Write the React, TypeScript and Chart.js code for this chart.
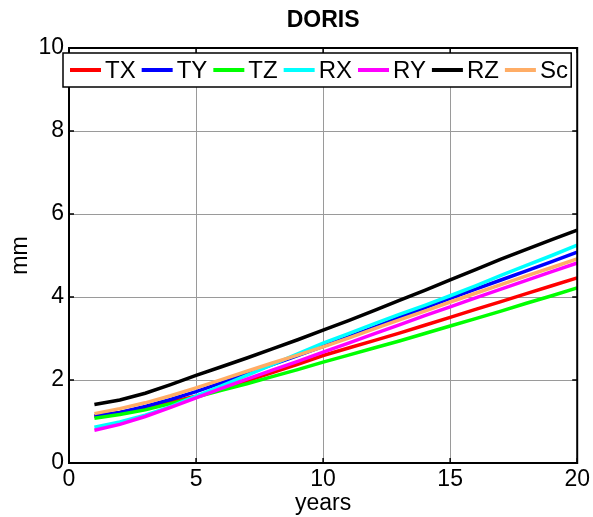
import React, { useEffect, useRef } from 'react';
import { Chart, registerables } from 'chart.js';

Chart.register(...registerables);

const years = [1, 2, 3, 4, 5, 6, 7, 8, 9, 10, 11, 12, 13, 14, 15, 16, 17, 18, 19, 20];
const TX = [1.12, 1.22, 1.34, 1.47, 1.61, 1.79, 1.98, 2.18, 2.38, 2.59, 2.77, 2.95, 3.13, 3.32, 3.51, 3.70, 3.89, 4.08, 4.27, 4.46];
const TY = [1.13, 1.22, 1.36, 1.53, 1.72, 1.93, 2.15, 2.37, 2.59, 2.81, 3.04, 3.27, 3.51, 3.74, 3.97, 4.19, 4.41, 4.63, 4.85, 5.08];
const TZ = [1.08, 1.17, 1.28, 1.43, 1.59, 1.75, 1.91, 2.08, 2.25, 2.43, 2.60, 2.77, 2.94, 3.12, 3.30, 3.48, 3.66, 3.85, 4.03, 4.22];
const RX = [0.86, 0.99, 1.15, 1.36, 1.61, 1.86, 2.11, 2.37, 2.63, 2.89, 3.12, 3.35, 3.58, 3.80, 4.03, 4.27, 4.52, 4.76, 5.00, 5.25];
const RY = [0.79, 0.93, 1.12, 1.34, 1.57, 1.80, 2.02, 2.24, 2.45, 2.67, 2.89, 3.11, 3.33, 3.55, 3.76, 3.98, 4.19, 4.40, 4.61, 4.82];
const RZ = [1.41, 1.52, 1.68, 1.89, 2.11, 2.32, 2.53, 2.75, 2.97, 3.20, 3.43, 3.67, 3.92, 4.16, 4.41, 4.66, 4.91, 5.15, 5.38, 5.61];
const Sc = [1.19, 1.31, 1.45, 1.62, 1.81, 2.01, 2.21, 2.41, 2.60, 2.80, 3.01, 3.23, 3.45, 3.66, 3.88, 4.09, 4.30, 4.51, 4.71, 4.92];

const seriesNames = ['TX', 'TY', 'TZ', 'RX', 'RY', 'RZ', 'Sc'];
const seriesValues = [TX, TY, TZ, RX, RY, RZ, Sc];
const seriesColors = ['#ff0000', '#0000ff', '#00ff00', '#00ffff', '#ff00ff', '#000000', '#ffad66'];

const xTicks = [0, 5, 10, 15, 20];
const yTicks = [0, 2, 4, 6, 8, 10];
const chartTitle = 'DORIS';
const xLabel = 'years';
const yLabel = 'mm';

const FONT = '"Liberation Sans", Arial, Helvetica, sans-serif';

const decorPlugin = {
  id: 'decor',
  afterDraw(chart: any) {
    const { ctx, chartArea } = chart;
    const { left, right, top, bottom } = chartArea;
    const xs = chart.scales.x;
    const ys = chart.scales.y;
    ctx.save();
    // frame
    ctx.strokeStyle = '#000';
    ctx.lineWidth = 2;
    ctx.strokeRect(left, top, right - left, bottom - top);
    // inward ticks
    const tl = 5;
    ctx.lineWidth = 1.5;
    ctx.beginPath();
    xTicks.forEach((v) => {
      const px = xs.getPixelForValue(v);
      ctx.moveTo(px, bottom);
      ctx.lineTo(px, bottom - tl);
      ctx.moveTo(px, top);
      ctx.lineTo(px, top + tl);
    });
    yTicks.forEach((v) => {
      const py = ys.getPixelForValue(v);
      ctx.moveTo(left, py);
      ctx.lineTo(left + tl, py);
      ctx.moveTo(right, py);
      ctx.lineTo(right - tl, py);
    });
    ctx.stroke();

    // title
    ctx.fillStyle = '#000';
    ctx.font = `bold 23px ${FONT}`;
    ctx.textAlign = 'center';
    ctx.textBaseline = 'middle';
    ctx.fillText(chartTitle, (left + right) / 2, 21);

    // legend
    const bx = left - 6;
    const bw = right - 6 - bx;
    const by = top + 5;
    const bh = 34;
    ctx.fillStyle = '#fff';
    ctx.fillRect(bx, by, bw, bh);
    ctx.strokeStyle = '#000';
    ctx.lineWidth = 1.5;
    ctx.strokeRect(bx, by, bw, bh);
    const cy = by + bh / 2;
    ctx.font = `24px ${FONT}`;
    ctx.textAlign = 'left';
    ctx.textBaseline = 'middle';
    let x = bx + 7;
    chart.data.datasets.forEach((ds: any) => {
      ctx.strokeStyle = ds.borderColor;
      ctx.lineWidth = 4;
      ctx.beginPath();
      ctx.moveTo(x, cy);
      ctx.lineTo(x + 31, cy);
      ctx.stroke();
      ctx.fillStyle = '#000';
      ctx.fillText(ds.label, x + 35, cy + 1);
      const w = ctx.measureText(ds.label).width;
      x += 35 + w + 6;
    });
    ctx.restore();
  },
};

export default function App() {
  const ref = useRef<HTMLCanvasElement>(null);
  useEffect(() => {
    if (!ref.current) return;
    const datasets = seriesNames.map((name, i) => ({
      label: name,
      data: years.map((yr, j) => ({ x: yr, y: seriesValues[i][j] })),
      borderColor: seriesColors[i],
      backgroundColor: seriesColors[i],
      borderWidth: 3.5,
      pointRadius: 0,
      tension: 0,
      fill: false,
      order: seriesNames.length - i,
    }));
    const chart = new Chart(ref.current, {
      type: 'line',
      data: { datasets },
      options: {
        animation: false,
        responsive: false,
        devicePixelRatio: 1,
        layout: { padding: { left: 0, right: 14, top: 48, bottom: 0 } },
        plugins: {
          legend: { display: false },
          title: { display: false },
          tooltip: { enabled: false },
        },
        scales: {
          x: {
            type: 'linear',
            min: 0,
            max: 20,
            afterBuildTicks: (s: any) => {
              s.ticks = xTicks.map((v) => ({ value: v }));
            },
            afterFit: (s: any) => {
              s.height = 54;
            },
            grid: { color: '#9a9a9a', lineWidth: 1, drawTicks: false },
            border: { display: false },
            ticks: {
              color: '#000',
              font: { family: FONT, size: 23 },
              padding: 3,
              maxRotation: 0,
              autoSkip: false,
            },
            title: {
              display: true,
              text: xLabel,
              color: '#000',
              font: { family: FONT, size: 23, lineHeight: 1.2 },
              padding: { top: 0, bottom: 0 },
            },
          },
          y: {
            type: 'linear',
            min: 0,
            max: 10,
            afterBuildTicks: (s: any) => {
              s.ticks = yTicks.map((v) => ({ value: v }));
            },
            afterFit: (s: any) => {
              s.width = 69;
            },
            grid: { color: '#9a9a9a', lineWidth: 1, drawTicks: false },
            border: { display: false },
            ticks: {
              color: '#000',
              font: { family: FONT, size: 23 },
              padding: 5,
              autoSkip: false,
            },
            title: {
              display: true,
              text: yLabel,
              color: '#000',
              font: { family: FONT, size: 23, lineHeight: 1.2 },
              padding: { top: 7, bottom: 0 },
            },
          },
        },
      },
      plugins: [decorPlugin],
    });
    return () => chart.destroy();
  }, []);
  return (
    <div style={{ position: 'absolute', left: 0, top: 0, width: 593, height: 517, background: '#fff' }}>
      <canvas ref={ref} width={593} height={517} style={{ display: 'block' }} />
    </div>
  );
}
